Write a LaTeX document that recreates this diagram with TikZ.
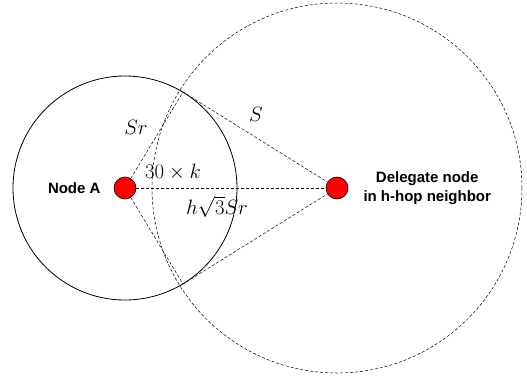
\documentclass[tikz,border=0pt]{standalone}
\usepackage{fontspec}
\setmainfont{Liberation Sans}
\usepackage{tikz}
\usetikzlibrary{positioning}
\definecolor{dotred}{HTML}{FF0000}

\begin{document}
\begin{tikzpicture}[x=1pt, y=-1pt,
    dot/.style={circle, draw=black, line width=0.6pt, fill=dotred,
                minimum size=22pt, inner sep=0pt},
    link/.style={dash pattern=on 3pt off 2pt, line width=0.5pt},
    lbl/.style={font=\bfseries\fontsize{15}{19}\selectfont, inner sep=0pt},
    sym/.style={font=\fontsize{20}{24}\selectfont, inner sep=0pt}]
  \useasboundingbox (0,0) rectangle (527,378);
  % the two nodes
  \node[dot] (nodeA) at (125,188) {};
  \node[dot] (delegate) at (337,188) {};
  \node[lbl, left=13pt of nodeA] (labelA) {Node A};
  \node[lbl, right=15pt of delegate, align=center] (labelD) {Delegate node\\in h-hop neighbor};
  % ranges
  \draw[line width=0.8pt] (nodeA.center) circle[radius=112pt];
  \draw[link] (delegate.center) circle[radius=185pt];
  % crossing points
  \coordinate (top) at (183,92);
  \coordinate (bottom) at (183,284);
  \draw[link] (nodeA) -- (top) -- (delegate);
  \draw[link] (nodeA) -- (bottom) -- (delegate);
  \draw[link, line width=0.7pt] (nodeA) -- (delegate);
  % lengths
  \node[sym] (sr) at (136,127) {$Sr$};
  \node[sym] (s) at (256,114) {$S$};
  \node[sym] (angle) at (173,172) {$30\times k$};
  \node[sym] (dist) at (217,207) {$h\sqrt{3}Sr$};
\end{tikzpicture}
\end{document}
